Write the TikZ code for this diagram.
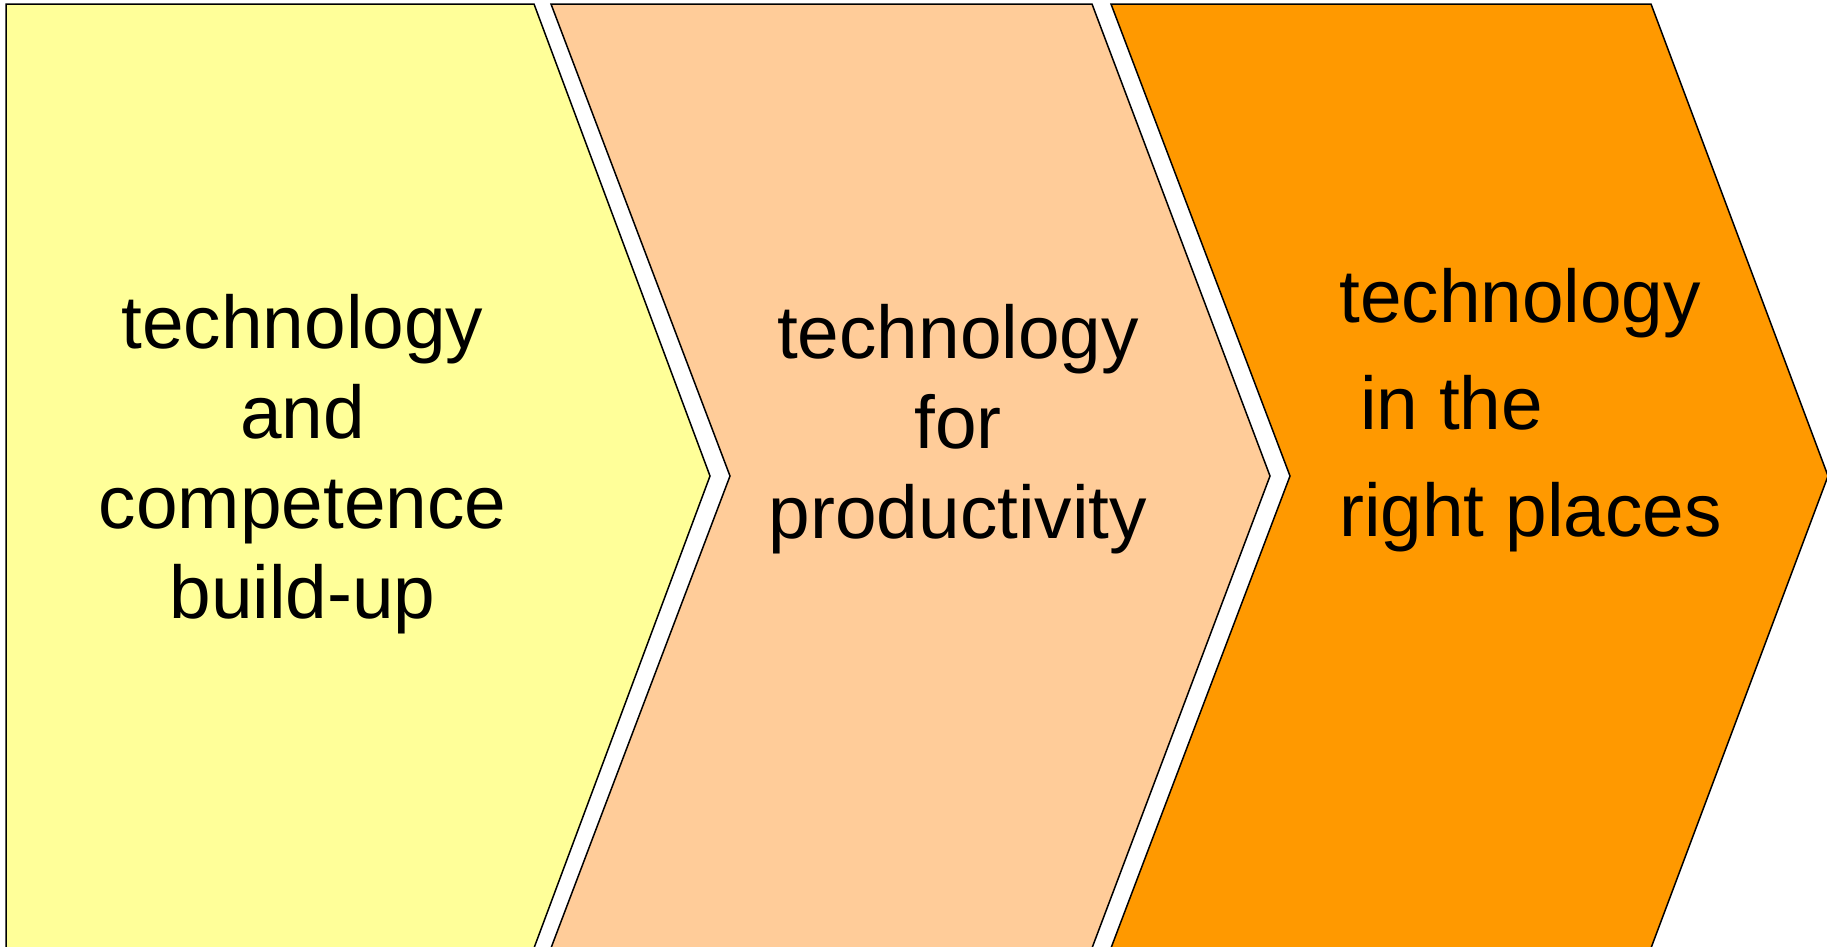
\documentclass[tikz,border=0pt]{standalone}
\usepackage{fontspec}
\setmainfont{Liberation Sans}
\definecolor{cyellow}{HTML}{FFFF99}
\definecolor{cpeach}{HTML}{FFCC99}
\definecolor{corange}{HTML}{FF9900}
\begin{document}
\begin{tikzpicture}[x=1pt,y=-1pt,
  chev/.style={draw=black,line width=1.5pt,line join=miter},
  lbl/.style={anchor=base,inner sep=0pt,font=\fontsize{74.8}{90}\selectfont},
  lbll/.style={anchor=base west,inner sep=0pt,font=\fontsize{74.8}{90}\selectfont}]
\useasboundingbox (0,0) rectangle (1827,946);
\clip (0,0) rectangle (1827,946);
\fill[white] (0,0) rectangle (1827,946);
% chevrons
\draw[chev,fill=cyellow] (6,4) -- (534,4) -- (710,476) -- (534,948) -- (6,948) -- cycle;
\draw[chev,fill=cpeach] (551,4) -- (1092,4) -- (1270,476) -- (1092,948) -- (551,948) -- (730,476) -- cycle;
\draw[chev,fill=corange] (1111,4) -- (1651,4) -- (1828,476) -- (1651,948) -- (1111,948) -- (1290,476) -- cycle;
% texts
\node[lbl] (y1) at (302.5,348) {technology};
\node[lbl] (y2) at (302.5,438) {and};
\node[lbl] (y3) at (302.5,528) {competence};
\node[lbl] (y4) at (302.5,618) {build-up};
\node[lbl] (p1) at (958,358) {technology};
\node[lbl] (p2) at (958,448) {for};
\node[lbl] (p3) at (958,538) {productivity};
\node[lbll] (o1) at (1339,322) {technology};
\node[lbll] (o2) at (1360,429) {in the};
\node[lbll] (o3) at (1339,536) {right places};
\end{tikzpicture}
\end{document}
